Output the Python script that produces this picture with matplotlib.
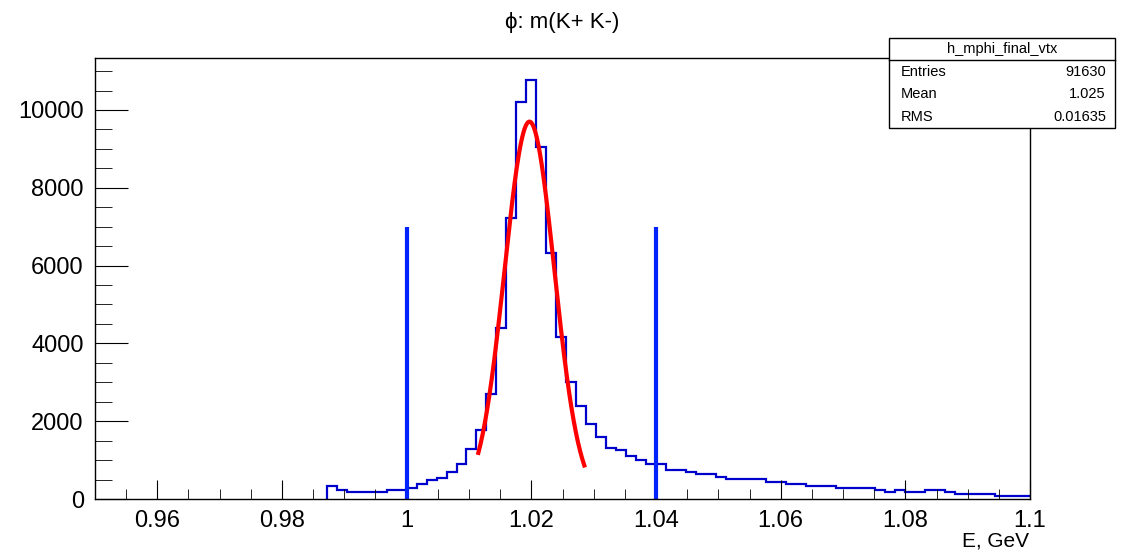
import numpy as np
import matplotlib
matplotlib.use("Agg")
import matplotlib.pyplot as plt
from matplotlib.ticker import MultipleLocator

plt.rcParams["font.family"] = ["Liberation Sans", "DejaVu Sans"]

# histogram h_mphi_final_vtx (bin width 0.0016, peak bin 1.0192-1.0208)
bin_width = 0.0016
peak_edge = 1.0192
counts_before = [334, 230, 170, 170, 170, 170, 230, 230, 290, 385, 490, 550, 685,
                 890, 1280, 1770, 2700, 4390, 7220, 10210]
counts_after = [10770, 9040, 6330, 4170, 3010, 2390, 1920, 1600, 1300,
                1260, 1105, 1000, 890, 890, 745, 745, 685, 635, 635, 557,
                506, 506, 506, 506, 445, 445, 385, 385, 334, 334, 334,
                275, 275, 275, 275, 231, 188, 231, 180, 180, 231, 231, 180,
                128, 128, 128, 128, 77, 77, 77, 77, 128]
counts = np.array(counts_before + counts_after)
first_edge = peak_edge - bin_width * len(counts_before)
edges = first_edge + bin_width * np.arange(len(counts) + 1)

# gaussian fit
fit_amp, fit_mu, fit_sigma = 9700, 1.0197, 0.0040
fit_range = (1.0115, 1.0285)

# cut lines
cut_x = [1.0, 1.04]
cut_height = 7000

stats = [("Entries", "91630"), ("Mean", "1.025"), ("RMS", "0.01635")]

fig = plt.figure(figsize=(11.25, 5.58), dpi=100)
ax = fig.add_axes([0.0844, 0.1057, 0.8312, 0.7903])

ax.stairs(counts, edges, color="#0000cc", lw=1.6)
xf = np.linspace(*fit_range, 200)
ax.plot(xf, fit_amp * np.exp(-0.5 * ((xf - fit_mu) / fit_sigma) ** 2), color="red", lw=3)
ax.vlines(cut_x, 0, cut_height, color="#0022ff", lw=3)

ax.set_xlim(0.95, 1.1)
ax.set_ylim(0, 11335)
ax.xaxis.set_major_locator(MultipleLocator(0.02))
ax.xaxis.set_minor_locator(MultipleLocator(0.005))
ax.yaxis.set_major_locator(MultipleLocator(2000))
ax.yaxis.set_minor_locator(MultipleLocator(500))
ax.xaxis.set_major_formatter(lambda v, p: f"{v:g}")
ax.tick_params(which="both", direction="in", top=False, right=False, labelsize=17)
ax.tick_params(which="major", length=14, pad=8)
ax.tick_params(which="minor", length=7)
ax.tick_params(axis="y", which="major", length=24)
ax.tick_params(axis="y", which="minor", length=12)
for s in ax.spines.values():
    s.set_linewidth(1.0)

fig.text(0.5, 0.96, "ϕ: m(K+ K-)", ha="center", va="center", fontsize=16)
fig.text(0.915, 0.03, "E, GeV", ha="right", va="center", fontsize=15)

# stats box
bx0, by0, bw, bh = 889 / 1125, 1 - 128 / 558, 226 / 1125, 90 / 558
fig.patches.append(plt.Rectangle((bx0, by0), bw, bh, transform=fig.transFigure,
                                 fc="white", ec="black", lw=1))
row_h = bh / 4
fig.add_artist(plt.Line2D([bx0, bx0 + bw], [by0 + 3 * row_h] * 2,
                          transform=fig.transFigure, color="black", lw=1))
fig.text(bx0 + bw / 2, by0 + 3.5 * row_h, "h_mphi_final_vtx", ha="center", va="center", fontsize=10.5)
for i, (k, v) in enumerate(stats):
    yy = by0 + (2.5 - i) * row_h
    fig.text(bx0 + 0.01, yy, k, ha="left", va="center", fontsize=10.5)
    fig.text(bx0 + bw - 0.008, yy, v, ha="right", va="center", fontsize=10.5)

fig.savefig("out.png", dpi=100)
